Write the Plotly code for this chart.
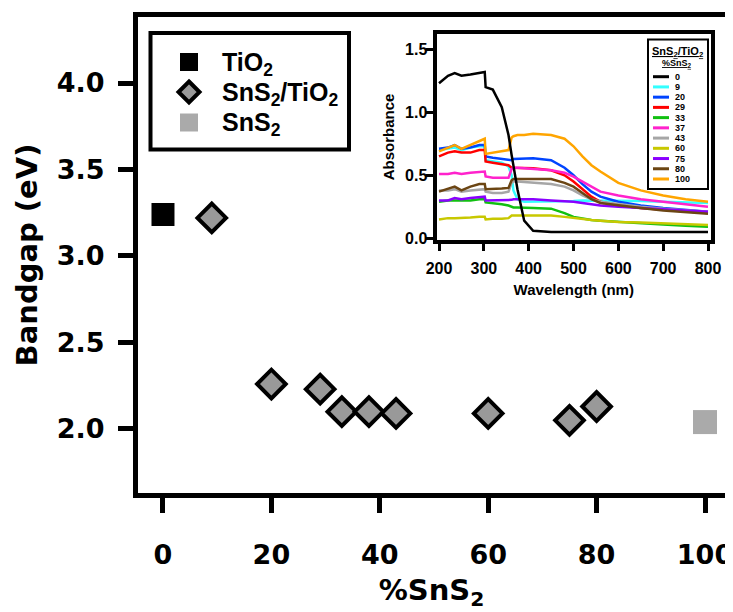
import plotly.graph_objects as go

# ---------------- data: main plot ----------------
tio2_x = [0]
tio2_y = [3.24]
comp_x = [9, 20, 29, 33, 38, 43, 60, 75, 80]
comp_y = [3.22, 2.26, 2.23, 2.10, 2.10, 2.09, 2.09, 2.05, 2.13]
sns2_x = [100]
sns2_y = [2.04]
main_xticks = [0, 20, 40, 60, 80, 100]
main_yticks = [2.0, 2.5, 3.0, 3.5, 4.0]

# ---------------- data: inset absorbance ----------------
wavelength = [200, 220, 235, 250, 270, 290, 302, 304, 320, 340, 355, 362, 366, 375,
              390, 410, 450, 480, 500, 520, 540, 560, 600, 650, 700, 750, 800]
abs_0 = [1.23, 1.29, 1.31, 1.29, 1.30, 1.31, 1.32, 1.20, 1.18, 1.04, 0.82, 0.66, 0.57, 0.39,
         0.14, 0.06, 0.05, 0.05, 0.05, 0.05, 0.05, 0.05, 0.05, 0.05, 0.05, 0.05, 0.05]
abs_9 = [0.70, 0.71, 0.72, 0.70, 0.72, 0.73, 0.73, 0.62, 0.61, 0.60, 0.57, 0.50, 0.38, 0.31,
         0.29, 0.29, 0.29, 0.295, 0.295, 0.30, 0.30, 0.30, 0.30, 0.295, 0.29, 0.285, 0.28]
abs_20 = [0.71, 0.72, 0.74, 0.71, 0.72, 0.74, 0.74, 0.65, 0.64, 0.63, 0.62, 0.62, 0.63, 0.63,
          0.63, 0.635, 0.62, 0.56, 0.50, 0.43, 0.37, 0.33, 0.29, 0.26, 0.24, 0.225, 0.21]
abs_29 = [0.65, 0.68, 0.69, 0.68, 0.68, 0.70, 0.70, 0.61, 0.60, 0.59, 0.58, 0.56, 0.56, 0.56,
          0.56, 0.555, 0.54, 0.50, 0.45, 0.39, 0.33, 0.29, 0.26, 0.24, 0.225, 0.21, 0.20]
abs_33 = [0.29, 0.30, 0.30, 0.30, 0.30, 0.31, 0.31, 0.285, 0.28, 0.27, 0.26, 0.25, 0.245, 0.245,
          0.245, 0.24, 0.235, 0.20, 0.17, 0.155, 0.145, 0.14, 0.13, 0.12, 0.11, 0.10, 0.092]
abs_37 = [0.51, 0.51, 0.52, 0.51, 0.52, 0.53, 0.53, 0.49, 0.48, 0.48, 0.48, 0.55, 0.56, 0.56,
          0.555, 0.55, 0.54, 0.52, 0.49, 0.45, 0.41, 0.37, 0.34, 0.31, 0.29, 0.27, 0.25]
abs_43 = [0.38, 0.38, 0.39, 0.37, 0.38, 0.39, 0.39, 0.37, 0.36, 0.36, 0.37, 0.44, 0.45, 0.45,
          0.445, 0.44, 0.43, 0.41, 0.38, 0.34, 0.31, 0.29, 0.27, 0.25, 0.235, 0.22, 0.21]
abs_60 = [0.15, 0.16, 0.16, 0.16, 0.165, 0.17, 0.17, 0.15, 0.155, 0.155, 0.16, 0.18, 0.18, 0.185,
          0.185, 0.185, 0.18, 0.17, 0.16, 0.15, 0.145, 0.14, 0.13, 0.125, 0.12, 0.11, 0.105]
abs_75 = [0.30, 0.30, 0.32, 0.31, 0.32, 0.33, 0.33, 0.30, 0.30, 0.30, 0.30, 0.305, 0.31, 0.31,
          0.31, 0.31, 0.30, 0.295, 0.29, 0.28, 0.27, 0.26, 0.25, 0.24, 0.23, 0.22, 0.21]
abs_80 = [0.37, 0.39, 0.41, 0.38, 0.41, 0.43, 0.43, 0.39, 0.39, 0.395, 0.40, 0.46, 0.47, 0.47,
          0.47, 0.475, 0.47, 0.44, 0.41, 0.36, 0.31, 0.28, 0.26, 0.24, 0.22, 0.21, 0.195]
abs_100 = [0.69, 0.72, 0.74, 0.71, 0.74, 0.77, 0.79, 0.67, 0.68, 0.69, 0.70, 0.80, 0.81, 0.82,
           0.82, 0.83, 0.82, 0.79, 0.73, 0.65, 0.58, 0.53, 0.44, 0.38, 0.34, 0.31, 0.29]
inset_labels = ["0", "9", "20", "29", "33", "37", "43", "60", "75", "80", "100"]
inset_series = [abs_0, abs_9, abs_20, abs_29, abs_33, abs_37, abs_43, abs_60, abs_75, abs_80, abs_100]
inset_colors = ["#000000", "#33ffff", "#0044ff", "#ff0000", "#11c011", "#ff22cc",
                "#a6a6a6", "#c8c800", "#8a00ff", "#6b4513", "#ffa500"]
inset_xticks = [200, 300, 400, 500, 600, 700, 800]
inset_yticks = [0.0, 0.5, 1.0, 1.5]

# ---------------- geometry (screen pixels; page body adds an 8px offset) ----------------
OFF = 8
W, H = 733 - OFF, 612 - OFF
L, R, T, B = 138, 725, 17, 493          # plot area in screen pixels


def px(x):
    return (x - L) / (R - L)


def py(y):
    return (B - y) / (B - T)


MAIN_FAMILY = "DejaVu Sans"
INSET_FAMILY = "Liberation Sans"

fig = go.Figure()

# main markers
fig.add_trace(go.Scatter(x=tio2_x, y=tio2_y, mode="markers", name="TiO2",
                         marker=dict(symbol="square", size=23, color="black"),
                         xaxis="x", yaxis="y", showlegend=False))
fig.add_trace(go.Scatter(x=comp_x, y=comp_y, mode="markers", name="SnS2/TiO2",
                         marker=dict(symbol="diamond", size=22, color="#999999",
                                     line=dict(color="black", width=4)),
                         xaxis="x", yaxis="y", showlegend=False))
fig.add_trace(go.Scatter(x=sns2_x, y=sns2_y, mode="markers", name="SnS2",
                         marker=dict(symbol="square", size=24, color="#aaaaaa"),
                         xaxis="x", yaxis="y", showlegend=False))

# inset curves (black drawn last, on top)
order = list(range(1, len(inset_series))) + [0]
for i in order:
    fig.add_trace(go.Scatter(x=wavelength, y=inset_series[i], mode="lines",
                             name=inset_labels[i],
                             line=dict(color=inset_colors[i], width=2.5),
                             xaxis="x2", yaxis="y2", showlegend=False))

main_tick_font = dict(family=MAIN_FAMILY, size=27, color="black", weight="bold")
inset_tick_font = dict(family=INSET_FAMILY, size=16, color="black", weight="bold")

fig.update_layout(
    template="none",
    width=W, height=H,
    margin=dict(l=L - OFF, r=(733 - OFF) - (R - OFF), t=T - OFF, b=H - (B - OFF),
                pad=0, autoexpand=False),
    paper_bgcolor="white", plot_bgcolor="white",
    showlegend=False,
    xaxis=dict(domain=[0, 1], range=[-4.61, 103.69], tickmode="array", tickvals=main_xticks,
               automargin=False, ticklabeloverflow="allow",
               ticks="outside", ticklen=15, tickwidth=5, tickcolor="black",
               showline=True, linewidth=5, linecolor="black", mirror=True,
               showgrid=False, zeroline=False, tickfont=main_tick_font,
               ticklabelstandoff=19,
               title=dict(text="%SnS<sub>2</sub>", standoff=12,
                          font=dict(family=MAIN_FAMILY, size=29, color="black", weight="bold"))),
    yaxis=dict(domain=[0, 1], range=[1.630, 4.3815], tickmode="array", tickvals=main_yticks,
               tickformat=".1f", automargin=False, ticklabeloverflow="allow",
               ticks="outside", ticklen=15, tickwidth=5, tickcolor="black",
               showline=True, linewidth=5, linecolor="black", mirror=True,
               showgrid=False, zeroline=False, tickfont=main_tick_font,
               ticklabelstandoff=8,
               title=dict(text="Bandgap (eV)", standoff=12,
                          font=dict(family=MAIN_FAMILY, size=29, color="black", weight="bold"))),
    xaxis2=dict(domain=[px(436.5), px(711)], anchor="y2", range=[194.4, 806.7],
                tickmode="array", tickvals=inset_xticks, automargin=False,
                ticklabeloverflow="allow",
                ticks="outside", ticklen=7, tickwidth=3, tickcolor="black",
                showline=True, linewidth=4, linecolor="black", mirror=True,
                showgrid=False, zeroline=False, tickfont=inset_tick_font,
                ticklabelstandoff=4,
                title=dict(text="Wavelength (nm)", standoff=9,
                           font=dict(family=INSET_FAMILY, size=15, color="black", weight="bold"))),
    yaxis2=dict(domain=[py(240), py(34)], anchor="x2", range=[-0.0135, 1.621],
                tickmode="array", tickvals=inset_yticks, tickformat=".1f", automargin=False,
                ticklabeloverflow="allow",
                ticks="outside", ticklen=7, tickwidth=3, tickcolor="black",
                showline=True, linewidth=4, linecolor="black", mirror=True,
                showgrid=False, zeroline=False, tickfont=inset_tick_font,
                ticklabelstandoff=-5,
                title=dict(text="Absorbance", standoff=8,
                           font=dict(family=INSET_FAMILY, size=15, color="black", weight="bold"))),
)

shapes = []
annotations = []

# ---- main legend (drawn manually to keep large symbols) ----
shapes.append(dict(type="rect", xref="paper", yref="paper",
                   x0=px(150.5), x1=px(349), y0=py(149.5), y1=py(33),
                   line=dict(color="black", width=4), fillcolor="white", layer="above"))
leg_rows = [62, 92, 122.5]
leg_cx = 189
shapes.append(dict(type="rect", xref="paper", yref="paper",
                   x0=px(leg_cx - 9), x1=px(leg_cx + 9), y0=py(leg_rows[0] + 9), y1=py(leg_rows[0] - 9),
                   line=dict(width=0), fillcolor="black", layer="above"))
d = 10.5
cy = leg_rows[1]
shapes.append(dict(type="path", xref="paper", yref="paper",
                   path=f"M {px(leg_cx)},{py(cy - d)} L {px(leg_cx + d)},{py(cy)} "
                        f"L {px(leg_cx)},{py(cy + d)} L {px(leg_cx - d)},{py(cy)} Z",
                   line=dict(color="black", width=4), fillcolor="#999999", layer="above"))
shapes.append(dict(type="rect", xref="paper", yref="paper",
                   x0=px(leg_cx - 9), x1=px(leg_cx + 9), y0=py(leg_rows[2] + 9), y1=py(leg_rows[2] - 9),
                   line=dict(width=0), fillcolor="#aaaaaa", layer="above"))
leg_texts = ["TiO<sub>2</sub>", "SnS<sub>2</sub>/TiO<sub>2</sub>", "SnS<sub>2</sub>"]
for txt, ry in zip(leg_texts, leg_rows):
    annotations.append(dict(x=px(220), y=py(ry + 2), xref="paper", yref="paper",
                            text=txt, showarrow=False, xanchor="left", yanchor="middle",
                            font=dict(family=INSET_FAMILY, size=25, color="black", weight="bold")))

# ---- inset legend ----
shapes.append(dict(type="rect", xref="paper", yref="paper",
                   x0=px(648), x1=px(708), y0=py(189), y1=py(39.5),
                   line=dict(color="black", width=2), fillcolor="white", layer="above"))
annotations.append(dict(x=px(677), y=py(52), xref="paper", yref="paper",
                        text="<u>SnS<sub>2</sub>/TiO<sub>2</sub></u>", showarrow=False,
                        xanchor="center", yanchor="middle",
                        font=dict(family=INSET_FAMILY, size=11, color="black", weight="bold")))
annotations.append(dict(x=px(677), y=py(64), xref="paper", yref="paper",
                        text="<u>%SnS<sub>2</sub></u>", showarrow=False,
                        xanchor="center", yanchor="middle",
                        font=dict(family=INSET_FAMILY, size=9, color="black", weight="bold")))
row0, dy = 76.7, 10.23
for k, (lab, col) in enumerate(zip(inset_labels, inset_colors)):
    yy = row0 + k * dy
    shapes.append(dict(type="line", xref="paper", yref="paper",
                       x0=px(653), x1=px(669), y0=py(yy), y1=py(yy),
                       line=dict(color=col, width=3), layer="above"))
    annotations.append(dict(x=px(673), y=py(yy), xref="paper", yref="paper",
                            text=lab, showarrow=False, xanchor="left", yanchor="middle",
                            font=dict(family=INSET_FAMILY, size=9, color="black", weight="bold")))

fig.update_layout(shapes=shapes, annotations=annotations)

fig.write_html("out.html")
